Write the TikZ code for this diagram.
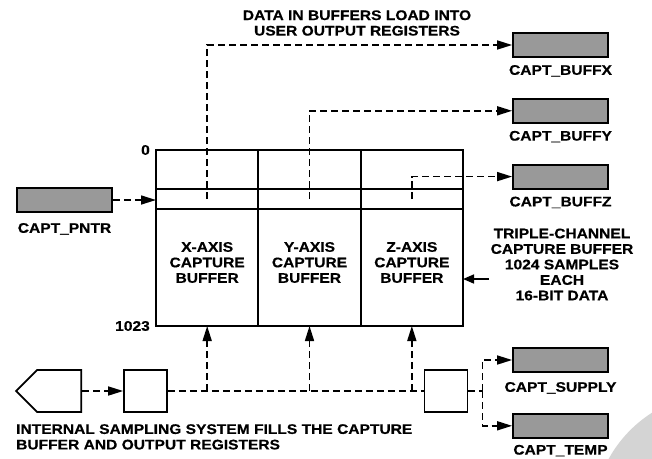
\documentclass[tikz,border=0pt]{standalone}
\usepackage{fontspec}
\newfontfamily\figfamily{Liberation Sans}[FakeStretch=1.12,BoldFeatures={FakeBold=0.5}]
\usepackage{tikz}
\usetikzlibrary{shapes.symbols,arrows.meta,positioning}
\definecolor{regfill}{gray}{0.6}
\definecolor{decogray}{gray}{0.83}
\def \figfont {\fontsize{13.9pt}{15.5pt}\selectfont\figfamily\bfseries}
\tikzstyle{cell} = [draw,line width=1.9pt,minimum width=102.33pt,inner sep=0,outer sep=0]
\tikzstyle{reg} = [draw,line width=1.8pt,fill=regfill,minimum width=95pt,minimum height=24pt,inner sep=0]
\tikzstyle{blk} = [draw,line width=1.7pt,minimum width=43pt,minimum height=42pt,inner sep=0]
\tikzstyle{lbl} = [inner sep=0,font=\figfont,align=center]
\tikzstyle{feed} = [line width=1.6pt,dash pattern=on 7pt off 4pt]
\tikzset{>={Triangle[length=15pt,width=9pt]}}
\def \gap {7pt}

\begin{document}
\begin{tikzpicture}[x=1pt,y=-1pt]
      \useasboundingbox (0,0) rectangle (652,458);
      % corner mark
      \begin{scope}
        \clip (0,0) rectangle (652,458);
        \fill[decogray] (720,520) circle (127);
      \end{scope}
      % capture buffer
      \node[cell,minimum height=39pt] (xtop) at (207.17,169.5) {};
      \node[cell,minimum height=20pt,below=0pt of xtop] (xptr) {};
      \node[cell,minimum height=117pt,below=0pt of xptr] (xbuf) {};
      \node[cell,minimum height=39pt,right=0pt of xtop] (ytop) {};
      \node[cell,minimum height=20pt,below=0pt of ytop] (yptr) {};
      \node[cell,minimum height=117pt,below=0pt of yptr] (ybuf) {};
      \node[cell,minimum height=39pt,right=0pt of ytop] (ztop) {};
      \node[cell,minimum height=20pt,below=0pt of ztop] (zptr) {};
      \node[cell,minimum height=117pt,below=0pt of zptr] (zbuf) {};
      \node[lbl] (xlab) at ([yshift=5pt]xbuf.center) {X-AXIS\\CAPTURE\\BUFFER};
      \node[lbl] (ylab) at ([yshift=5pt]ybuf.center) {Y-AXIS\\CAPTURE\\BUFFER};
      \node[lbl] (zlab) at ([yshift=5pt]zbuf.center) {Z-AXIS\\CAPTURE\\BUFFER};
      \node[lbl,left=6pt of xtop.north west] (first) {0};
      \node[lbl,left=6pt of xbuf.south west] (last) {1023};
      % output registers
      \node[reg] (buffx) at (560.5,45) {};
      \node[reg,below=40pt of buffx] (buffy) {};
      \node[reg,below=40pt of buffy] (buffz) {};
      \node[reg] (supply) at (560.5,360) {};
      \node[reg,below=40pt of supply] (temp) {};
      \node[reg] (pntr) at (64.5,200) {};
      \node[lbl,below=\gap of buffx] {CAPT\_BUFFX};
      \node[lbl,below=\gap of buffy] {CAPT\_BUFFY};
      \node[lbl,below=\gap of buffz] {CAPT\_BUFFZ};
      \node[lbl,below=9pt of supply] {CAPT\_SUPPLY};
      \node[lbl,below=6pt of temp] {CAPT\_TEMP};
      \node[lbl,below=10pt of pntr] {CAPT\_PNTR};
      % sampling chain
      \node[draw,line width=1.7pt,signal,signal to=west,signal from=nowhere,signal pointer angle=90,
            minimum width=65pt,minimum height=42pt,inner sep=0,anchor=east] (sensor) at (82,391) {};
      \node[blk] (smpl) at (145.5,391) {};
      \node[blk] (dist) at (446,391) {};
      \coordinate (split) at ([xshift=14pt]dist.east);
      % texts
      \node[lbl] (top) at (357,23) {DATA IN BUFFERS LOAD INTO\\USER OUTPUT REGISTERS};
      \node[lbl] (info) at (562,264.5) {TRIPLE-CHANNEL\\CAPTURE BUFFER\\1024 SAMPLES\\EACH\\16-BIT DATA};
      \node[lbl,align=left,anchor=north west] (fill) at (16,424) {INTERNAL SAMPLING SYSTEM FILLS THE CAPTURE\\BUFFER AND OUTPUT REGISTERS};
      \coordinate (infoarrow) at (489,279);
      % connectors
      \draw[feed,->] (xptr.center) |- (buffx.west);
      \draw[feed,->] (yptr.center) |- (buffy.west);
      \draw[feed,->] (zptr.center) |- (buffz.west);
      \draw[feed,->] (pntr.east) -- (pntr.east -| xptr.west);
      \draw[feed,->] (sensor.east) -- (smpl.west);
      \draw[feed] (smpl.east) -- (dist.west);
      \foreach \c in {xbuf,ybuf,zbuf}
        \draw[feed,->] (smpl.east -| \c.south) -- (\c.south);
      \draw[feed] (dist.east) -- (split);
      \draw[feed,->] (split) |- (supply.west);
      \draw[feed,->] (split) |- (temp.west);
      \draw[line width=1.6pt,-{Triangle[length=11pt,width=9pt]}] (infoarrow) -- (infoarrow -| zbuf.east);
    \end{tikzpicture}
\end{document}
